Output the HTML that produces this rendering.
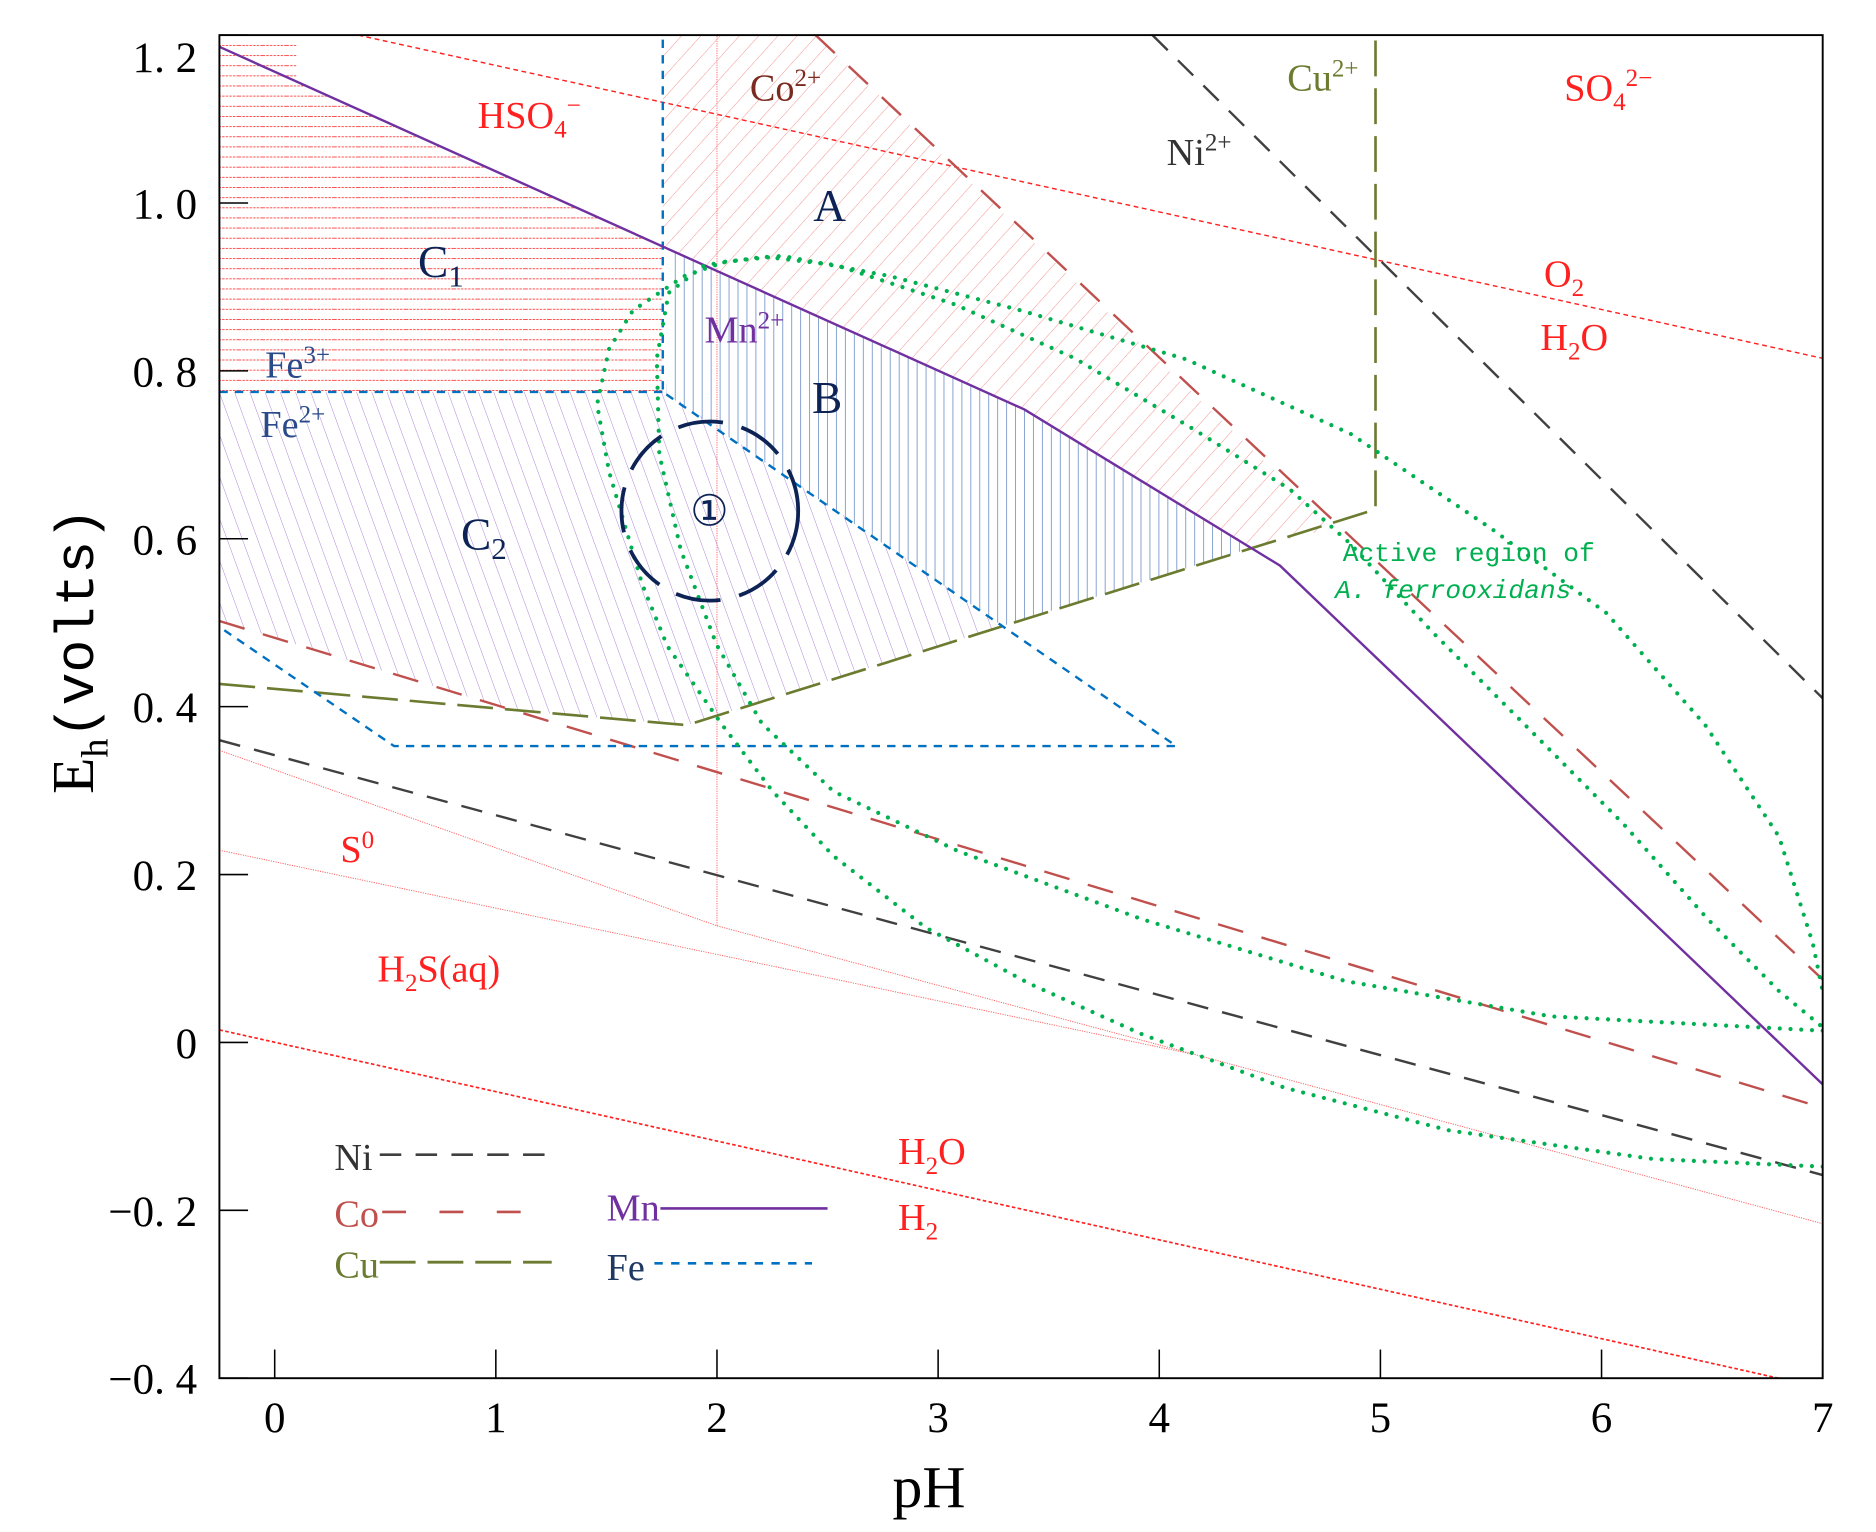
<!DOCTYPE html>
<html><head><meta charset="utf-8"><style>
html,body{margin:0;padding:0;background:#fff;}
svg{display:block;}
</style></head><body>
<svg id="chart" width="1876" height="1532" viewBox="0 0 1571 1283" xmlns="http://www.w3.org/2000/svg" font-family="Liberation Serif, serif">
<defs>
<pattern id="hatchC1" patternUnits="userSpaceOnUse" width="20" height="8.5"><line x1="0" y1="4" x2="20" y2="4" stroke="#ff3030" stroke-width="0.8" stroke-dasharray="2,1"/></pattern>
<pattern id="hatchA" patternUnits="userSpaceOnUse" width="12" height="12" patternTransform="rotate(42)"><line x1="0" y1="0" x2="0" y2="12" stroke="#f08080" stroke-width="0.7"/></pattern>
<pattern id="hatchB" patternUnits="userSpaceOnUse" width="7.5" height="20"><line x1="3" y1="0" x2="3" y2="20" stroke="#5a7fc0" stroke-width="0.6"/></pattern>
<pattern id="hatchC2" patternUnits="userSpaceOnUse" width="12" height="12" patternTransform="rotate(-20)"><line x1="0" y1="0" x2="0" y2="12" stroke="#9a70d0" stroke-width="0.7"/></pattern>
<clipPath id="plotClip"><rect x="183.7" y="29.4" width="1342.7" height="1124.6"/></clipPath>
</defs>
<g id="regions" clip-path="url(#plotClip)"></g>
<g id="lines" clip-path="url(#plotClip)"></g>
<g id="axes"></g>
</svg>
<script>
// ---- data (pH, Eh volts) ----
const xTicks = [0,1,2,3,4,5,6,7];
const yTicks = [1.2,1.0,0.8,0.6,0.4,0.2,0,-0.2,-0.4];
const yTickLabels = ["1. 2","1. 0","0. 8","0. 6","0. 4","0. 2","0","\u22120. 2","\u22120. 4"];
const mnLine = [[-0.25,1.186],[3.39,0.754],[4.546,0.568],[7,-0.050]];
const feVertical = [[1.755,1.25],[1.755,0.775]];
const feHorizontal = [[-0.25,0.775],[1.755,0.775]];
const feLower = [[1.771,0.772],[4.077,0.353],[0.54,0.353],[-0.25,0.495]];
const cuLine = [[-0.25,0.427],[1.863,0.378],[4.978,0.635],[4.978,1.25]];
const coUpper = [[2.446,1.2],[7,0.075]];
const coLower = [[-0.25,0.502],[7,-0.078]];
const niUpper = [[3.969,1.2],[7,0.41]];
const niLower = [[-0.25,0.360],[7,-0.158]];
const o2Line = [[0.378,1.2],[7,0.815]];
const h2Line = [[-0.25,0.015],[6.8,-0.4]];
const sLineA = [[-0.25,0.348],[2,0.139],[7,-0.216]];
const sLineB = [[-0.25,0.229],[4.15,-0.014]];
const sVertical = [[2,1.25],[2,0.139]];
const greenOuter = [[7,-0.148],[6.236,-0.139],[5.313,-0.105],[4.568,-0.054],[3.92,0.010],[3.413,0.070],[2.943,0.137],[2.527,0.222],[2.252,0.299],[2.019,0.380],[1.776,0.472],[1.663,0.545],[1.512,0.680],[1.458,0.760],[1.512,0.826],[1.62,0.872],[1.852,0.913],[2.036,0.930],[2.295,0.937],[2.781,0.913],[3.375,0.872],[4.12,0.814],[4.865,0.725],[5.502,0.612],[6.02,0.512],[6.469,0.378],[6.803,0.245],[6.955,0.118],[7,0.061]];
const greenInner = [[7,0.014],[5.772,0.031],[4.843,0.073],[3.92,0.147],[3.089,0.228],[2.527,0.299],[2.203,0.380],[1.998,0.474],[1.836,0.587],[1.739,0.701],[1.728,0.815],[1.782,0.893],[1.944,0.926],[2.214,0.936],[2.538,0.926],[3.078,0.879],[3.618,0.815],[4.158,0.730],[4.59,0.659],[4.86,0.595],[5.238,0.488],[5.67,0.374],[6.1,0.260],[6.48,0.147],[6.803,0.061],[7,0.018]];
const regionC1 = [[-0.25,1.25],[0.1,1.25],[0.1,1.145],[1.755,0.948],[1.755,0.775],[-0.25,0.775]];
const regionA = [[1.755,1.25],[2.446,1.25],[2.446,1.2],[4.793,0.613],[4.417,0.589],[3.39,0.754],[1.755,0.948]];
const regionB = [[1.8,0.943],[3.39,0.754],[4.417,0.589],[3.291,0.496],[1.771,0.772]];
const regionC2 = [[-0.25,0.775],[1.771,0.775],[3.291,0.496],[1.863,0.378],[1.07,0.396],[-0.25,0.502]];
const circleCenter = [2.0,0.633];

const NS="http://www.w3.org/2000/svg";
function X(p){return 230+185.2*p;}
function Y(e){return 170+(1-e)*703;}
const L=X(-0.25), R=X(7), T=Y(1.2), B=Y(-0.4);
function mk(tag,attrs,parent){const el=document.createElementNS(NS,tag);for(const k in attrs)el.setAttribute(k,attrs[k]);parent.appendChild(el);return el;}
function pts(a){return a.map(d=>X(d[0]).toFixed(1)+","+Y(d[1]).toFixed(1)).join(" ");}
const gR=document.getElementById('regions'), gL=document.getElementById('lines'), gA=document.getElementById('axes');

let el;
el=mk('polygon',{points:pts(regionC1),fill:'url(#hatchC1)'},gR);


el=mk('polygon',{points:pts(regionA),fill:'url(#hatchA)'},gR);


el=mk('polygon',{points:pts(regionB),fill:'url(#hatchB)'},gR);


el=mk('polygon',{points:pts(regionC2),fill:'url(#hatchC2)'},gR);



function line(data,stroke,w,dash){
  return mk('polyline',{points:pts(data),fill:'none',stroke:stroke,'stroke-width':w,'stroke-dasharray':dash||'none','stroke-linecap':'butt'},gL);
}
el=line(o2Line,'#ff2020',1.2,'4,3');  
el=line(h2Line,'#ff2020',1.4,'3,2');  
el=line(sLineA,'#ff6060',0.8,'1,1');  
el=line(sLineB,'#ff6060',0.8,'1,1');  
el=line(sVertical,'#ff6060',0.8,'1,1');  
el=line(niUpper,'#404040',2,'18,12');  
el=line(niLower,'#404040',2,'18,12');  
el=line(coUpper,'#c0504d',2,'22,16');  
el=line(coLower,'#c0504d',2,'22,16');  
el=line(cuLine,'#6b7b30',2.2,'30,10');  
el=line(feVertical,'#0070c0',2,'7,6');  
el=line(feHorizontal,'#0070c0',2,'7,6');  
el=line(feLower,'#0070c0',2,'7,6');  
el=line(mnLine,'#7030a0',2,null);  
el=mk('polyline',{points:pts(greenOuter),fill:'none',stroke:'#00b050','stroke-width':3.5,'stroke-dasharray':'0,9','stroke-linecap':'round'},gL);
 
el=mk('polyline',{points:pts(greenInner),fill:'none',stroke:'#00b050','stroke-width':3.5,'stroke-dasharray':'0,9','stroke-linecap':'round'},gL);
 
el=mk('ellipse',{cx:X(circleCenter[0])-6,cy:Y(circleCenter[1]),rx:74,ry:75,fill:'none',stroke:'#0d2355','stroke-width':3.2,'stroke-dasharray':'38,16'},gL);
 

el=mk('rect',{x:L,y:T,width:R-L,height:B-T,fill:'none',stroke:'#000','stroke-width':1.6},gA);
 
xTicks.forEach(v=>{
  const t=mk('line',{x1:X(v),x2:X(v),y1:B,y2:B-24,stroke:'#000','stroke-width':1.3},gA);
   
  const tx=mk('text',{x:X(v),y:B+45,'text-anchor':'middle','font-size':36},gA);
  tx.textContent=String(v);
   
});
yTicks.forEach((v,i)=>{
  const t=mk('line',{x1:L,x2:L+24,y1:Y(v),y2:Y(v),stroke:'#000','stroke-width':1.3},gA);
   
  let yy=Y(v)+13; if(v===1.2) yy=Y(v)+31;
  const tx=mk('text',{x:165,y:yy,'text-anchor':'end','font-size':36},gA);
  tx.textContent=yTickLabels[i];
   
});
</script>
<svg style="position:absolute;left:0;top:0" width="1876" height="1532" viewBox="0 0 1571 1283">
<g font-family="Liberation Serif, serif">
<text x="778" y="1262" font-size="50" text-anchor="middle">pH</text>
<text transform="translate(78,665) rotate(-90)" font-size="50">E<tspan font-size="32" dy="12">h</tspan><tspan dy="-12" font-family="Liberation Mono, monospace" font-size="46">(volts)</tspan></text>
<text x="400" y="107" font-size="32" fill="#ff2020">HSO<tspan font-size="21" dy="8">4</tspan><tspan font-size="21" dy="-20">−</tspan></text>
<text x="628" y="84" font-size="32" fill="#7b2a20">Co<tspan font-size="21" dy="-12">2+</tspan></text>
<text x="977" y="138" font-size="32" fill="#333">Ni<tspan font-size="21" dy="-12">2+</tspan></text>
<text x="1078" y="76" font-size="32" fill="#6b7b30">Cu<tspan font-size="21" dy="-12">2+</tspan></text>
<text x="1310" y="84" font-size="32" fill="#ff2020">SO<tspan font-size="21" dy="8">4</tspan><tspan font-size="21" dy="-20">2−</tspan></text>
<text x="681" y="185" font-size="38" fill="#0d2355">A</text>
<text x="350" y="232" font-size="38" fill="#0d2355">C<tspan font-size="26" dy="8">1</tspan></text>
<text x="590" y="287" font-size="32" fill="#7030a0">Mn<tspan font-size="21" dy="-12">2+</tspan></text>
<text x="680" y="346" font-size="38" fill="#0d2355">B</text>
<text x="1293" y="240" font-size="32" fill="#ff2020">O<tspan font-size="21" dy="8">2</tspan></text>
<text x="1290" y="293" font-size="32" fill="#ff2020">H<tspan font-size="21" dy="8">2</tspan><tspan dy="-8">O</tspan></text>
<text x="222" y="316" font-size="32" fill="#2a4a8a">Fe<tspan font-size="21" dy="-12">3+</tspan></text>
<text x="218" y="366" font-size="32" fill="#2a4a8a">Fe<tspan font-size="21" dy="-12">2+</tspan></text>
<text x="386" y="460" font-size="38" fill="#0d2355">C<tspan font-size="26" dy="8">2</tspan></text>
<text x="594" y="440" font-size="36" fill="#0d2355" text-anchor="middle">①</text>
<text x="1230" y="470" font-size="22" fill="#00b050" text-anchor="middle" font-family="Liberation Mono, monospace">Active region of</text>
<text x="1217" y="501" font-size="22" fill="#00b050" text-anchor="middle" font-style="italic" font-family="Liberation Mono, monospace">A. ferrooxidans</text>
<text x="285" y="722" font-size="32" fill="#ff2020">S<tspan font-size="21" dy="-12">0</tspan></text>
<text x="316" y="822" font-size="32" fill="#ff2020">H<tspan font-size="21" dy="8">2</tspan><tspan dy="-8">S(aq)</tspan></text>
<text x="752" y="975" font-size="32" fill="#ff2020">H<tspan font-size="21" dy="8">2</tspan><tspan dy="-8">O</tspan></text>
<text x="752" y="1030" font-size="32" fill="#ff2020">H<tspan font-size="21" dy="8">2</tspan></text>
<g>
<text x="280" y="980" font-size="32" fill="#333">Ni</text>
<line x1="318" y1="967" x2="462" y2="967" stroke="#404040" stroke-width="2.2" stroke-dasharray="18,12"/>
<text x="280" y="1027" font-size="32" fill="#c0504d">Co</text>
<line x1="320" y1="1015" x2="462" y2="1015" stroke="#c0504d" stroke-width="2.2" stroke-dasharray="20,28"/>
<text x="280" y="1070" font-size="32" fill="#6b7b30">Cu</text>
<line x1="318" y1="1057" x2="462" y2="1057" stroke="#6b7b30" stroke-width="2.4" stroke-dasharray="30,10"/>
<text x="508" y="1022" font-size="32" fill="#7030a0">Mn</text>
<line x1="553" y1="1012" x2="693" y2="1012" stroke="#7030a0" stroke-width="2.2"/>
<text x="508" y="1072" font-size="32" fill="#1f3864">Fe</text>
<line x1="548" y1="1058" x2="680" y2="1058" stroke="#0070c0" stroke-width="2.2" stroke-dasharray="7,7"/>
</g>
</g>
</svg>
</body></html>
